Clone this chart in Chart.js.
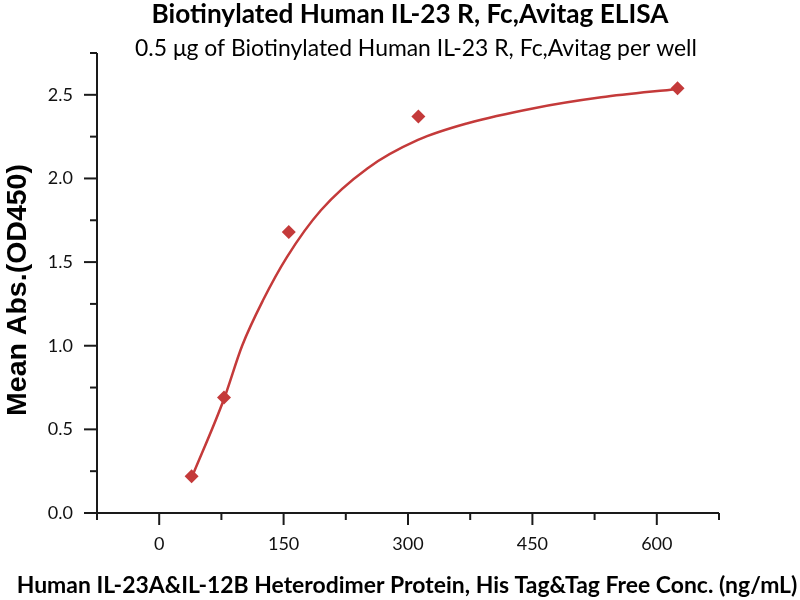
<!DOCTYPE html>
<html>
<head>
<meta charset="utf-8">
<script src="https://cdn.jsdelivr.net/npm/chart.js@4"></script>
<style>
  html, body { margin: 0; padding: 0; background: #fff; }
  #wrap { width: 800px; height: 600px; }
</style>
</head>
<body>
<div id="wrap"><canvas id="elisa" width="800" height="600"></canvas></div>
<script>
// measured points (ng/mL, OD450)
const concentrations = [39.06, 78.13, 156.25, 312.5, 625];
const meanAbs = [0.22, 0.69, 1.68, 2.37, 2.54];

// fitted curve
const fitConc = [39, 78, 100, 125, 154, 195, 251, 312, 372, 452, 533, 625];
const fitAbs = [0.21, 0.68, 1.0, 1.27, 1.53, 1.81, 2.06, 2.23, 2.33, 2.42, 2.485, 2.535];

const titleText = 'Biotinylated Human IL-23 R, Fc,Avitag ELISA';
const subtitleText = '0.5 \u03bcg of Biotinylated Human IL-23 R, Fc,Avitag per well';
const xTitleText = 'Human IL-23A&IL-12B Heterodimer Protein, His Tag&Tag Free Conc. (ng/mL)';
const yTitleText = 'Mean Abs.(OD450)';

const red = '#c43a3a';
const ink = '#1a1a1a';

const fitText = (ctx, text, weight, family, width) => {
  ctx.font = `${weight} 100px ${family}`;
  const size = 100 * width / ctx.measureText(text).width;
  ctx.font = `${weight} ${size}px ${family}`;
};

const framePlugin = {
  id: 'frame',
  afterDraw(chart) {
    const { ctx, chartArea, scales } = chart;
    const xs = scales.x;
    const ys = scales.y;
    ctx.save();
    ctx.strokeStyle = ink;
    ctx.lineWidth = 2;

    // axis lines
    ctx.beginPath();
    ctx.moveTo(chartArea.left, chartArea.top);
    ctx.lineTo(chartArea.left, chartArea.bottom);
    ctx.lineTo(chartArea.right, chartArea.bottom);
    ctx.stroke();

    // ticks, long on labelled values
    xs.ticks.forEach((t) => {
      const px = xs.getPixelForValue(t.value);
      const len = Math.abs(t.value % 150) < 1e-6 ? 12 : 7;
      ctx.beginPath();
      ctx.moveTo(px, chartArea.bottom);
      ctx.lineTo(px, chartArea.bottom + len);
      ctx.stroke();
    });
    ys.ticks.forEach((t) => {
      const py = ys.getPixelForValue(t.value);
      const major = Math.abs(Math.round(t.value * 2) - t.value * 2) < 1e-6;
      const len = major ? 13 : 7;
      ctx.beginPath();
      ctx.moveTo(chartArea.left, py);
      ctx.lineTo(chartArea.left - len, py);
      ctx.stroke();
    });

    // titles
    ctx.fillStyle = '#000';
    ctx.textAlign = 'center';
    ctx.textBaseline = 'middle';
    fitText(ctx, titleText, 'bold', 'Lato', 517);
    ctx.fillText(titleText, 410, 15);
    fitText(ctx, subtitleText, 'normal', 'Lato', 562);
    ctx.fillText(subtitleText, 416, 49);
    fitText(ctx, xTitleText, 'bold', 'Lato', 781);
    ctx.fillText(xTitleText, 407, 586);

    ctx.translate(18, 290);
    ctx.rotate(-Math.PI / 2);
    fitText(ctx, yTitleText, 'bold', '"Liberation Sans"', 252);
    ctx.fillText(yTitleText, 0, 0);
    ctx.restore();
  }
};

new Chart(document.getElementById('elisa'), {
  type: 'scatter',
  data: {
    datasets: [
      {
        type: 'line',
        data: fitConc.map((x, i) => ({ x: x, y: fitAbs[i] })),
        borderColor: red,
        borderWidth: 2.5,
        pointRadius: 0,
        cubicInterpolationMode: 'monotone',
        fill: false,
      },
      {
        data: concentrations.map((x, i) => ({ x: x, y: meanAbs[i] })),
        backgroundColor: red,
        borderColor: red,
        pointStyle: 'rectRot',
        pointRadius: 7,
        borderWidth: 0,
      },
    ],
  },
  options: {
    responsive: false,
    animation: false,
    layout: { padding: { top: 53, right: 81, left: 0, bottom: 0 } },
    plugins: {
      legend: { display: false },
      title: { display: false },
      tooltip: { enabled: false },
    },
    scales: {
      x: {
        type: 'linear',
        min: -75,
        max: 675,
        grid: { display: false, drawTicks: false },
        border: { display: false },
        afterFit: (scale) => { scale.height = 87; },
        ticks: {
          stepSize: 75,
          autoSkip: false,
          maxRotation: 0,
          padding: 20,
          color: '#111',
          font: { family: 'Lato', size: 18 },
          callback: (v) => (Math.abs(v % 150) < 1e-6 ? String(v) : ''),
        },
      },
      y: {
        min: 0,
        max: 2.75,
        grid: { display: false, drawTicks: false },
        border: { display: false },
        afterFit: (scale) => { scale.width = 97; },
        ticks: {
          stepSize: 0.25,
          autoSkip: false,
          padding: 24,
          color: '#111',
          font: { family: 'Lato', size: 18 },
          callback: (v) => {
            const major = Math.abs(Math.round(v * 2) - v * 2) < 1e-6;
            return major ? v.toFixed(1) : '';
          },
        },
      },
    },
  },
  plugins: [framePlugin],
});
</script>
</body>
</html>
